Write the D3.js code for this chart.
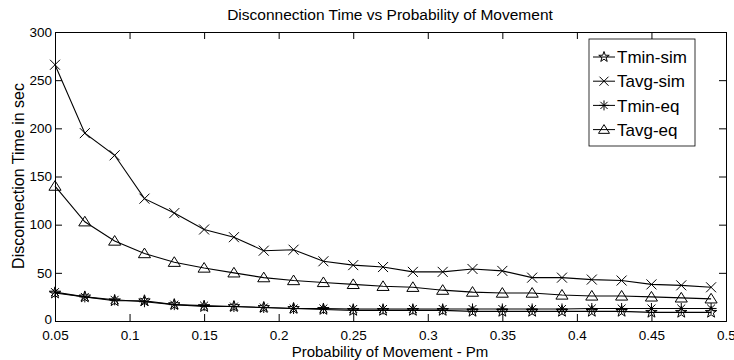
<!DOCTYPE html>
<html>
<head>
<meta charset="utf-8">
<script src="https://cdn.jsdelivr.net/npm/d3@7"></script>
<style>
  body { margin: 0; background: #fff; }
  text { font-family: "Liberation Sans", Arial, sans-serif; fill: #000; }
</style>
</head>
<body>
<div id="chart"></div>
<script>
// probability of movement values
const pm = [0.05, 0.07, 0.09, 0.11, 0.13, 0.15, 0.17, 0.19, 0.21, 0.23, 0.25, 0.27,
            0.29, 0.31, 0.33, 0.35, 0.37, 0.39, 0.41, 0.43, 0.45, 0.47, 0.49];

const tminSim = [29, 25, 21, 21, 17, 15, 15, 14, 13, 12, 11, 11, 11, 11, 10, 10, 10, 10, 10, 10, 9, 9, 9];
const tavgSim = [266, 195, 172, 127, 112, 95, 87, 73, 74, 62, 58, 56, 51, 51, 54, 52, 45, 45, 43, 42, 38, 37, 35];
const tminEq  = [30, 25, 22, 20, 17, 16, 15, 14, 13, 13, 12.5, 12.5, 12.5, 12.5, 12.5, 12.5, 12.5, 12.5, 13, 13, 13, 13, 13];
const tavgEq  = [140, 103, 83, 70, 61, 55, 50, 45, 42, 40, 38, 36, 35, 32, 30, 29, 29, 27, 26, 26, 25, 24, 23];

const seriesNames = ["Tmin-sim", "Tavg-sim", "Tmin-eq", "Tavg-eq"];
const seriesMarkers = ["star", "x", "asterisk", "triangle"];
const seriesValues = [tminSim, tavgSim, tminEq, tavgEq];

const xTicks = [0.05, 0.1, 0.15, 0.2, 0.25, 0.3, 0.35, 0.4, 0.45, 0.5];
const yTicks = [0, 50, 100, 150, 200, 250, 300];

const width = 734, height = 360;
const margin = { top: 32, right: 8, bottom: 39, left: 55 };

const svg = d3.select("#chart").append("svg")
  .attr("width", width)
  .attr("height", height);

const x = d3.scaleLinear().domain([0.05, 0.5]).range([margin.left, width - margin.right]);
const y = d3.scaleLinear().domain([0, 300]).range([height - margin.bottom, margin.top]);

// marker paths
function markerPath(type, r) {
  if (type === "x") {
    return `M${-r},${-r}L${r},${r}M${-r},${r}L${r},${-r}`;
  }
  if (type === "asterisk") {
    const d = r * 0.72;
    return `M${-r},0L${r},0M0,${-r}L0,${r}M${-d},${-d}L${d},${d}M${-d},${d}L${d},${-d}`;
  }
  if (type === "triangle") {
    const h = r * 1.0;
    return `M0,${-h}L${r * 1.1},${h * 0.75}L${-r * 1.1},${h * 0.75}Z`;
  }
  // pentagram
  let p = "";
  for (let i = 0; i < 10; i++) {
    const rad = i % 2 === 0 ? r : r * 0.4;
    const a = -Math.PI / 2 + i * Math.PI / 5;
    p += (i === 0 ? "M" : "L") + (rad * Math.cos(a)).toFixed(2) + "," + (rad * Math.sin(a)).toFixed(2);
  }
  return p + "Z";
}

const markerSize = { star: 6, x: 5, asterisk: 5.5, triangle: 5.5 };

// axes with inward ticks (box style)
const fmt = d => String(+d.toFixed(2));

svg.append("g")
  .attr("transform", `translate(0,${y(0)})`)
  .call(d3.axisBottom(x).tickValues(xTicks).tickSize(-7).tickPadding(9).tickFormat(fmt))
  .call(g => g.selectAll("text").attr("font-size", 13.5));

svg.append("g")
  .attr("transform", `translate(0,${y(300)})`)
  .call(d3.axisTop(x).tickValues(xTicks).tickSize(-7).tickFormat(""));

svg.append("g")
  .attr("transform", `translate(${x(0.05)},0)`)
  .call(d3.axisLeft(y).tickValues(yTicks).tickSize(-7).tickPadding(3))
  .call(g => g.selectAll("text").attr("font-size", 13.5))
  .call(g => g.selectAll(".tick text").filter(d => d === 0).attr("y", -2));

svg.append("g")
  .attr("transform", `translate(${x(0.5)},0)`)
  .call(d3.axisRight(y).tickValues(yTicks).tickSize(-7).tickFormat(""));

svg.selectAll(".domain").attr("stroke", "#000");
svg.selectAll(".tick line").attr("stroke", "#000");

// lines and markers
const line = d3.line()
  .x((d, i) => x(pm[i]))
  .y(d => y(d));

seriesValues.forEach((vals, si) => {
  svg.append("path")
    .datum(vals)
    .attr("fill", "none")
    .attr("stroke", "#000")
    .attr("stroke-width", 1.1)
    .attr("d", line);

  svg.append("g")
    .selectAll("path")
    .data(vals)
    .join("path")
    .attr("transform", (d, i) => `translate(${x(pm[i])},${y(d)})`)
    .attr("d", markerPath(seriesMarkers[si], markerSize[seriesMarkers[si]]))
    .attr("fill", "none")
    .attr("stroke", "#000")
    .attr("stroke-width", 1);
});

// title and axis labels
svg.append("text")
  .attr("x", 390)
  .attr("y", 20)
  .attr("text-anchor", "middle")
  .attr("font-size", 15.5)
  .text("Disconnection Time vs Probability of Movement");

svg.append("text")
  .attr("x", 390)
  .attr("y", 357)
  .attr("text-anchor", "middle")
  .attr("font-size", 15)
  .text("Probability of Movement - Pm");

svg.append("text")
  .attr("transform", "translate(24,176) rotate(-90)")
  .attr("text-anchor", "middle")
  .attr("font-size", 16)
  .text("Disconnection Time in sec");

// legend
const legend = svg.append("g").attr("transform", "translate(589,39)");
legend.append("rect")
  .attr("width", 106)
  .attr("height", 107)
  .attr("fill", "#fff")
  .attr("stroke", "#000")
  .attr("stroke-width", 0.8);

seriesNames.forEach((name, i) => {
  const ly = 18 + i * 24.2;
  legend.append("line")
    .attr("x1", 4).attr("x2", 26)
    .attr("y1", ly).attr("y2", ly)
    .attr("stroke", "#000");
  legend.append("path")
    .attr("transform", `translate(15,${ly})`)
    .attr("d", markerPath(seriesMarkers[i], markerSize[seriesMarkers[i]] - 0.5))
    .attr("fill", "none")
    .attr("stroke", "#000");
  legend.append("text")
    .attr("x", 28)
    .attr("y", ly)
    .attr("dy", "0.36em")
    .attr("font-size", 17)
    .text(name);
});
</script>
</body>
</html>
